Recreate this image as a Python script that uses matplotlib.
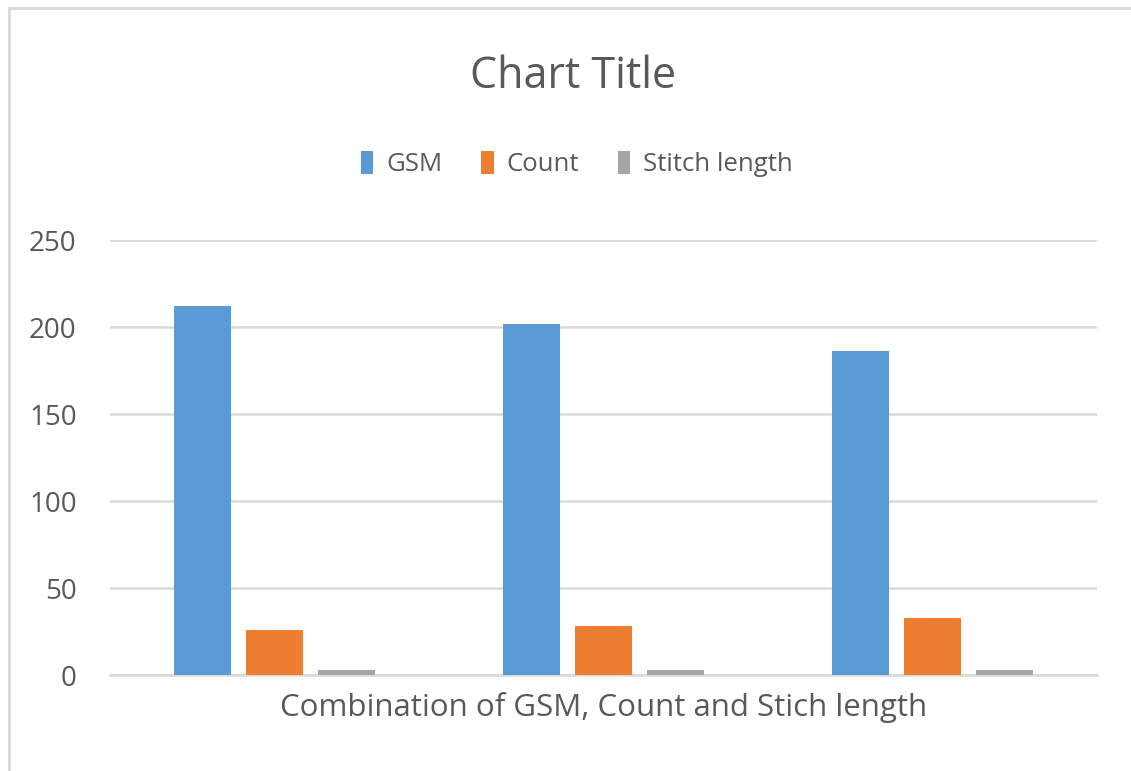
import numpy as np
import matplotlib.pyplot as plt
from matplotlib.lines import Line2D

# values per combination
gsm = [212, 202, 186]
count = [26, 28, 33]
stitch_length = [2.8, 2.8, 2.8]

series_names = ["GSM", "Count", "Stitch length"]
colors = ["#5B9BD5", "#ED7D31", "#A5A5A5"]
yticks = [0, 50, 100, 150, 200, 250]

plt.rcParams["font.family"] = ["Open Sans", "DejaVu Sans"]
text_color = "#595959"

fig = plt.figure(figsize=(11.31, 7.71), dpi=100)
ax = fig.add_axes([0.0973, 0.1245, 0.8727, 0.5642])

x = np.arange(len(gsm))
width = 0.173
step = 0.22
for i, (vals, name, col) in enumerate(zip([gsm, count, stitch_length], series_names, colors)):
    ax.bar(x + (i - 1) * step, vals, width, color=col, label=name, zorder=3)

ax.set_xlim(-0.5, 2.5)
ax.set_ylim(0, 250)
ax.set_yticks(yticks)
ax.set_xticks([])
ax.yaxis.grid(True, color="#D9D9D9", linewidth=1.8, zorder=0)
ax.tick_params(axis="y", length=0, pad=24, labelsize=20, labelcolor=text_color)
for s in ["top", "right", "left"]:
    ax.spines[s].set_visible(False)
ax.spines["bottom"].set_color("#D9D9D9")
ax.spines["bottom"].set_linewidth(1.8)

ax.set_xlabel("Combination of GSM, Count and Stich length", fontsize=22.5,
              color=text_color, labelpad=12)

fig.text(0.507, 0.900, "Chart Title", ha="center", va="center",
         fontsize=31, color=text_color)

handles, labels = ax.get_legend_handles_labels()
fig.legend(handles, labels, loc="center", bbox_to_anchor=(0.51, 0.787), ncol=3,
           frameon=False, fontsize=18.5, labelcolor=text_color,
           handlelength=0.5, handleheight=1.0, handletextpad=0.5,
           columnspacing=1.5)

# chart frame
fig.add_artist(Line2D([0.008, 1.0], [0.99, 0.99], color="#D9D9D9", linewidth=2,
                      transform=fig.transFigure))
fig.add_artist(Line2D([0.008, 0.008], [0.0, 0.99], color="#D9D9D9", linewidth=2,
                      transform=fig.transFigure))

fig.savefig("out.png", dpi=100)
